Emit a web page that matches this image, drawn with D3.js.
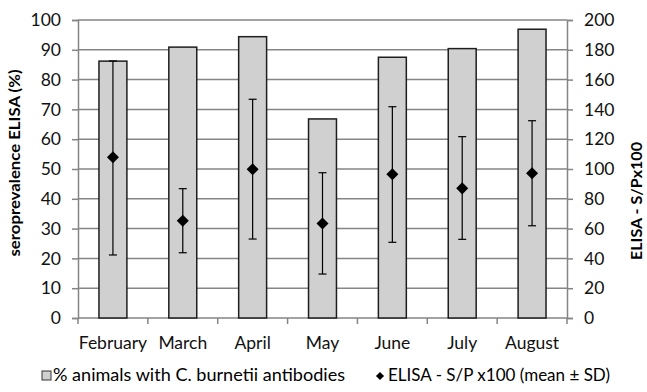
<!DOCTYPE html>
<html><head><meta charset="utf-8">
<script src="https://cdn.jsdelivr.net/npm/d3@7"></script>
<style>body{margin:0;background:#fff;} text{font-family:Lato,"Open Sans",sans-serif;}</style>
</head><body><svg id="c" width="647" height="392"></svg>
<script>
const months = ["February","March","April","May","June","July","August"];
const seroprevalence = [86.2, 90.9, 94.4, 66.8, 87.5, 90.4, 96.9];
const elisaMean = [107.9, 65.3, 99.8, 63.5, 96.4, 87.0, 97.1];
const elisaUpper = [172.5, 86.8, 146.8, 97.5, 141.8, 121.7, 132.4];
const elisaLower = [42.3, 43.8, 53.0, 29.5, 50.8, 52.8, 61.9];
const leftTicks = [0,10,20,30,40,50,60,70,80,90,100];
const rightTicks = [0,20,40,60,80,100,120,140,160,180,200];

const svg = d3.select("#c");
const m = {l:78, r:567, t:20, b:318};
const x = d3.scaleBand().domain(months).range([m.l, m.r]);
const yL = d3.scaleLinear().domain([0,100]).range([m.b, m.t]);
const yR = d3.scaleLinear().domain([0,200]).range([m.b, m.t]);
const grid = "#858585";

// gridlines
svg.append("g").selectAll("line").data(leftTicks.slice(1)).join("line")
  .attr("x1", m.l).attr("x2", m.r).attr("y1", d=>yL(d)).attr("y2", d=>yL(d))
  .attr("stroke", grid).attr("stroke-width", 1.5);

// left axis
const gl = svg.append("g").attr("transform", `translate(${m.l},0)`)
  .call(d3.axisLeft(yL).tickValues(leftTicks).tickSize(6).tickPadding(11));
// right axis
const gr = svg.append("g").attr("transform", `translate(${m.r},0)`)
  .call(d3.axisRight(yR).tickValues(rightTicks).tickSize(6).tickPadding(11));
// bottom axis
const gb = svg.append("g").attr("transform", `translate(0,${m.b})`)
  .call(d3.axisBottom(x).tickSize(0).tickPadding(19));
[gl, gr, gb].forEach(g => {
  g.select(".domain").attr("stroke", grid).attr("stroke-width", 1.5);
  g.selectAll(".tick line").attr("stroke", grid).attr("stroke-width", 1.5);
  g.selectAll("text").attr("font-size", 17.5).attr("fill", "#111").style("font-family","Lato, sans-serif");
});
gb.select(".domain").attr("d", `M${m.l},0H${m.r}`);
// category boundary ticks
const bounds = months.map(d => x(d)).concat([m.r]);
svg.append("g").selectAll("line").data(bounds).join("line")
  .attr("x1", d=>d).attr("x2", d=>d).attr("y1", m.b).attr("y2", m.b+6)
  .attr("stroke", grid).attr("stroke-width", 1.5);

// bars
const bw = x.bandwidth()*0.4;
svg.append("g").selectAll("rect").data(months).join("rect")
  .attr("x", (d)=>x(d)+x.bandwidth()/2-bw/2)
  .attr("width", bw)
  .attr("y", (d,i)=>yL(seroprevalence[i]))
  .attr("height", (d,i)=>yL(0)-yL(seroprevalence[i]))
  .attr("fill", "#d0d0d0").attr("stroke", "#1e1e1e").attr("stroke-width", 1.5);

// error bars
const eg = svg.append("g").attr("stroke", "#000").attr("stroke-width", 1.2);
months.forEach((d,i) => {
  const cx = x(d)+x.bandwidth()/2;
  eg.append("line").attr("x1",cx).attr("x2",cx).attr("y1",yR(elisaUpper[i])).attr("y2",yR(elisaLower[i]));
  eg.append("line").attr("x1",cx-4).attr("x2",cx+4).attr("y1",yR(elisaUpper[i])).attr("y2",yR(elisaUpper[i]));
  eg.append("line").attr("x1",cx-4).attr("x2",cx+4).attr("y1",yR(elisaLower[i])).attr("y2",yR(elisaLower[i]));
});
// diamonds
svg.append("g").selectAll("path").data(months).join("path")
  .attr("d", d3.symbol(d3.symbolDiamond2, 92))
  .attr("transform", (d,i)=>`translate(${x(d)+x.bandwidth()/2},${yR(elisaMean[i])})`)
  .attr("fill", "#000");

// axis titles
svg.append("text").attr("transform", "translate(20,163) rotate(-90)")
  .attr("text-anchor","middle").attr("font-size",16).attr("font-weight","bold")
  .attr("textLength",187).attr("lengthAdjust","spacingAndGlyphs")
  .text("seroprevalence ELISA (%)");
svg.append("text").attr("transform", "translate(642,201) rotate(-90)")
  .attr("text-anchor","middle").attr("font-size",16).attr("font-weight","bold")
  .attr("textLength",118).attr("lengthAdjust","spacingAndGlyphs")
  .text("ELISA - S/Px100");

// legend
svg.append("rect").attr("x",42).attr("y",371).attr("width",9).attr("height",9)
  .attr("fill","#d0d0d0").attr("stroke","#333").attr("stroke-width",1);
svg.append("text").attr("x",53).attr("y",381).attr("font-size",17.5)
  .attr("textLength",292).attr("lengthAdjust","spacingAndGlyphs")
  .text("%  animals with C. burnetii antibodies");
svg.append("path").attr("d", d3.symbol(d3.symbolDiamond2, 42))
  .attr("transform","translate(380,376)").attr("fill","#000");
svg.append("text").attr("x",388).attr("y",381).attr("font-size",17.5)
  .attr("textLength",222).attr("lengthAdjust","spacingAndGlyphs")
  .text("ELISA - S/P x100 (mean ± SD)");
</script></body></html>
